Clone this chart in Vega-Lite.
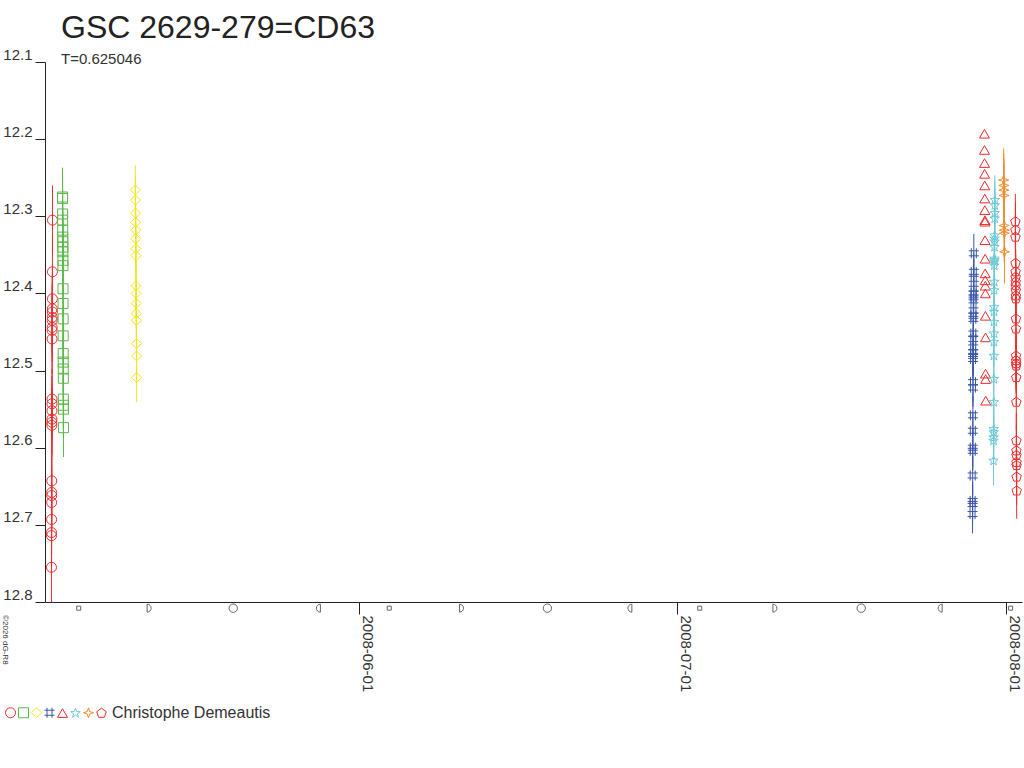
{
  "$schema": "https://vega.github.io/schema/vega-lite/v6.json",
  "width": 977,
  "height": 540,
  "autosize": {"type": "none"},
  "padding": {"left": 45, "top": 62, "right": 2, "bottom": 166},
  "background": "white",
  "config": {
    "view": {"stroke": null},
    "font": "Liberation Sans"
  },
  "title": {
    "text": "GSC 2629-279=CD63",
    "subtitle": "T=0.625046",
    "anchor": "start",
    "frame": "group",
    "dx": 16,
    "offset": -21,
    "font": "Liberation Sans",
    "fontSize": 32,
    "fontWeight": "normal",
    "color": "#222",
    "subtitleFont": "Liberation Sans",
    "subtitleFontSize": 15,
    "subtitleColor": "#333",
    "subtitlePadding": 7
  },
  "datasets": {
    "obs": [
      {"s": "A", "t": "2008-05-02T22:40", "m": 12.755, "e": 0.045},
      {"s": "A", "t": "2008-05-02T22:46", "m": 12.714, "e": 0.045},
      {"s": "A", "t": "2008-05-02T22:52", "m": 12.710, "e": 0.045},
      {"s": "A", "t": "2008-05-02T22:58", "m": 12.693, "e": 0.045},
      {"s": "A", "t": "2008-05-02T23:04", "m": 12.671, "e": 0.045},
      {"s": "A", "t": "2008-05-02T23:10", "m": 12.662, "e": 0.045},
      {"s": "A", "t": "2008-05-02T23:16", "m": 12.658, "e": 0.045},
      {"s": "A", "t": "2008-05-02T23:22", "m": 12.643, "e": 0.045},
      {"s": "A", "t": "2008-05-02T23:28", "m": 12.571, "e": 0.045},
      {"s": "A", "t": "2008-05-02T23:34", "m": 12.567, "e": 0.045},
      {"s": "A", "t": "2008-05-02T23:40", "m": 12.563, "e": 0.045},
      {"s": "A", "t": "2008-05-02T23:46", "m": 12.552, "e": 0.045},
      {"s": "A", "t": "2008-05-02T23:52", "m": 12.543, "e": 0.045},
      {"s": "A", "t": "2008-05-02T23:58", "m": 12.537, "e": 0.045},
      {"s": "A", "t": "2008-05-03T00:04", "m": 12.459, "e": 0.045},
      {"s": "A", "t": "2008-05-03T00:10", "m": 12.448, "e": 0.045},
      {"s": "A", "t": "2008-05-03T00:16", "m": 12.444, "e": 0.045},
      {"s": "A", "t": "2008-05-03T00:22", "m": 12.435, "e": 0.045},
      {"s": "A", "t": "2008-05-03T00:28", "m": 12.431, "e": 0.045},
      {"s": "A", "t": "2008-05-03T00:34", "m": 12.424, "e": 0.045},
      {"s": "A", "t": "2008-05-03T00:40", "m": 12.420, "e": 0.045},
      {"s": "A", "t": "2008-05-03T00:46", "m": 12.407, "e": 0.045},
      {"s": "A", "t": "2008-05-03T00:52", "m": 12.372, "e": 0.045},
      {"s": "A", "t": "2008-05-03T00:58", "m": 12.305, "e": 0.045},
      {"s": "B", "t": "2008-05-03T23:40", "m": 12.275, "e": 0.038},
      {"s": "B", "t": "2008-05-03T23:46", "m": 12.277, "e": 0.038},
      {"s": "B", "t": "2008-05-03T23:52", "m": 12.297, "e": 0.038},
      {"s": "B", "t": "2008-05-03T23:58", "m": 12.305, "e": 0.038},
      {"s": "B", "t": "2008-05-04T00:04", "m": 12.318, "e": 0.038},
      {"s": "B", "t": "2008-05-04T00:10", "m": 12.327, "e": 0.038},
      {"s": "B", "t": "2008-05-04T00:16", "m": 12.333, "e": 0.038},
      {"s": "B", "t": "2008-05-04T00:22", "m": 12.340, "e": 0.038},
      {"s": "B", "t": "2008-05-04T00:28", "m": 12.346, "e": 0.038},
      {"s": "B", "t": "2008-05-04T00:34", "m": 12.357, "e": 0.038},
      {"s": "B", "t": "2008-05-04T00:40", "m": 12.364, "e": 0.038},
      {"s": "B", "t": "2008-05-04T00:46", "m": 12.394, "e": 0.038},
      {"s": "B", "t": "2008-05-04T00:52", "m": 12.413, "e": 0.038},
      {"s": "B", "t": "2008-05-04T00:58", "m": 12.433, "e": 0.038},
      {"s": "B", "t": "2008-05-04T01:04", "m": 12.455, "e": 0.038},
      {"s": "B", "t": "2008-05-04T01:10", "m": 12.478, "e": 0.038},
      {"s": "B", "t": "2008-05-04T01:16", "m": 12.489, "e": 0.038},
      {"s": "B", "t": "2008-05-04T01:22", "m": 12.498, "e": 0.038},
      {"s": "B", "t": "2008-05-04T01:28", "m": 12.510, "e": 0.038},
      {"s": "B", "t": "2008-05-04T01:34", "m": 12.537, "e": 0.038},
      {"s": "B", "t": "2008-05-04T01:40", "m": 12.545, "e": 0.038},
      {"s": "B", "t": "2008-05-04T01:46", "m": 12.550, "e": 0.038},
      {"s": "B", "t": "2008-05-04T01:52", "m": 12.574, "e": 0.038},
      {"s": "C", "t": "2008-05-10T20:30", "m": 12.266, "e": 0.032},
      {"s": "C", "t": "2008-05-10T20:42", "m": 12.279, "e": 0.032},
      {"s": "C", "t": "2008-05-10T20:54", "m": 12.296, "e": 0.032},
      {"s": "C", "t": "2008-05-10T21:06", "m": 12.308, "e": 0.032},
      {"s": "C", "t": "2008-05-10T21:18", "m": 12.318, "e": 0.032},
      {"s": "C", "t": "2008-05-10T21:30", "m": 12.329, "e": 0.032},
      {"s": "C", "t": "2008-05-10T21:42", "m": 12.342, "e": 0.032},
      {"s": "C", "t": "2008-05-10T21:54", "m": 12.351, "e": 0.032},
      {"s": "C", "t": "2008-05-10T22:06", "m": 12.390, "e": 0.032},
      {"s": "C", "t": "2008-05-10T22:18", "m": 12.400, "e": 0.032},
      {"s": "C", "t": "2008-05-10T22:30", "m": 12.413, "e": 0.032},
      {"s": "C", "t": "2008-05-10T22:42", "m": 12.426, "e": 0.032},
      {"s": "C", "t": "2008-05-10T22:54", "m": 12.435, "e": 0.032},
      {"s": "C", "t": "2008-05-10T23:06", "m": 12.465, "e": 0.032},
      {"s": "C", "t": "2008-05-10T23:18", "m": 12.481, "e": 0.032},
      {"s": "C", "t": "2008-05-10T23:30", "m": 12.509, "e": 0.032},
      {"s": "D", "t": "2008-07-28T20:00", "m": 12.686, "e": 0.025},
      {"s": "D", "t": "2008-07-28T20:07", "m": 12.673, "e": 0.025},
      {"s": "D", "t": "2008-07-28T20:14", "m": 12.669, "e": 0.025},
      {"s": "D", "t": "2008-07-28T20:21", "m": 12.636, "e": 0.025},
      {"s": "D", "t": "2008-07-28T20:28", "m": 12.604, "e": 0.025},
      {"s": "D", "t": "2008-07-28T20:35", "m": 12.600, "e": 0.025},
      {"s": "D", "t": "2008-07-28T20:42", "m": 12.578, "e": 0.025},
      {"s": "D", "t": "2008-07-28T20:49", "m": 12.558, "e": 0.025},
      {"s": "D", "t": "2008-07-28T20:56", "m": 12.522, "e": 0.025},
      {"s": "D", "t": "2008-07-28T21:03", "m": 12.515, "e": 0.025},
      {"s": "D", "t": "2008-07-28T21:10", "m": 12.485, "e": 0.025},
      {"s": "D", "t": "2008-07-28T21:17", "m": 12.481, "e": 0.025},
      {"s": "D", "t": "2008-07-28T21:24", "m": 12.476, "e": 0.025},
      {"s": "D", "t": "2008-07-28T21:31", "m": 12.470, "e": 0.025},
      {"s": "D", "t": "2008-07-28T21:38", "m": 12.459, "e": 0.025},
      {"s": "D", "t": "2008-07-28T21:45", "m": 12.452, "e": 0.025},
      {"s": "D", "t": "2008-07-28T21:52", "m": 12.433, "e": 0.025},
      {"s": "D", "t": "2008-07-28T21:59", "m": 12.429, "e": 0.025},
      {"s": "D", "t": "2008-07-28T22:06", "m": 12.422, "e": 0.025},
      {"s": "D", "t": "2008-07-28T22:13", "m": 12.409, "e": 0.025},
      {"s": "D", "t": "2008-07-28T22:20", "m": 12.405, "e": 0.025},
      {"s": "D", "t": "2008-07-28T22:27", "m": 12.400, "e": 0.025},
      {"s": "D", "t": "2008-07-28T22:34", "m": 12.394, "e": 0.025},
      {"s": "D", "t": "2008-07-28T22:41", "m": 12.381, "e": 0.025},
      {"s": "D", "t": "2008-07-28T22:48", "m": 12.372, "e": 0.025},
      {"s": "D", "t": "2008-07-28T22:55", "m": 12.348, "e": 0.025},
      {"s": "E", "t": "2008-07-29T23:00", "m": 12.193},
      {"s": "E", "t": "2008-07-29T23:09", "m": 12.214},
      {"s": "E", "t": "2008-07-29T23:18", "m": 12.231},
      {"s": "E", "t": "2008-07-29T23:27", "m": 12.245},
      {"s": "E", "t": "2008-07-29T23:36", "m": 12.260},
      {"s": "E", "t": "2008-07-29T23:45", "m": 12.277},
      {"s": "E", "t": "2008-07-29T23:54", "m": 12.292},
      {"s": "E", "t": "2008-07-30T00:03", "m": 12.305},
      {"s": "E", "t": "2008-07-30T00:12", "m": 12.307},
      {"s": "E", "t": "2008-07-30T00:21", "m": 12.331},
      {"s": "E", "t": "2008-07-30T00:30", "m": 12.355},
      {"s": "E", "t": "2008-07-30T00:39", "m": 12.374},
      {"s": "E", "t": "2008-07-30T00:48", "m": 12.383},
      {"s": "E", "t": "2008-07-30T00:57", "m": 12.390},
      {"s": "E", "t": "2008-07-30T01:06", "m": 12.400},
      {"s": "E", "t": "2008-07-30T01:15", "m": 12.429},
      {"s": "E", "t": "2008-07-30T01:24", "m": 12.457},
      {"s": "E", "t": "2008-07-30T01:33", "m": 12.504},
      {"s": "E", "t": "2008-07-30T01:42", "m": 12.511},
      {"s": "E", "t": "2008-07-30T01:51", "m": 12.539},
      {"s": "F", "t": "2008-07-30T19:30", "m": 12.617, "e": 0.032},
      {"s": "F", "t": "2008-07-30T19:37", "m": 12.591, "e": 0.032},
      {"s": "F", "t": "2008-07-30T19:44", "m": 12.587, "e": 0.032},
      {"s": "F", "t": "2008-07-30T19:51", "m": 12.580, "e": 0.032},
      {"s": "F", "t": "2008-07-30T19:58", "m": 12.576, "e": 0.032},
      {"s": "F", "t": "2008-07-30T20:05", "m": 12.541, "e": 0.032},
      {"s": "F", "t": "2008-07-30T20:12", "m": 12.511, "e": 0.032},
      {"s": "F", "t": "2008-07-30T20:19", "m": 12.481, "e": 0.032},
      {"s": "F", "t": "2008-07-30T20:26", "m": 12.463, "e": 0.032},
      {"s": "F", "t": "2008-07-30T20:33", "m": 12.452, "e": 0.032},
      {"s": "F", "t": "2008-07-30T20:40", "m": 12.437, "e": 0.032},
      {"s": "F", "t": "2008-07-30T20:47", "m": 12.424, "e": 0.032},
      {"s": "F", "t": "2008-07-30T20:54", "m": 12.418, "e": 0.032},
      {"s": "F", "t": "2008-07-30T21:01", "m": 12.396, "e": 0.032},
      {"s": "F", "t": "2008-07-30T21:08", "m": 12.385, "e": 0.032},
      {"s": "F", "t": "2008-07-30T21:15", "m": 12.364, "e": 0.032},
      {"s": "F", "t": "2008-07-30T21:22", "m": 12.359, "e": 0.032},
      {"s": "F", "t": "2008-07-30T21:29", "m": 12.357, "e": 0.032},
      {"s": "F", "t": "2008-07-30T21:36", "m": 12.355, "e": 0.032},
      {"s": "F", "t": "2008-07-30T21:43", "m": 12.340, "e": 0.032},
      {"s": "F", "t": "2008-07-30T21:50", "m": 12.333, "e": 0.032},
      {"s": "F", "t": "2008-07-30T21:57", "m": 12.329, "e": 0.032},
      {"s": "F", "t": "2008-07-30T22:04", "m": 12.325, "e": 0.032},
      {"s": "F", "t": "2008-07-30T22:11", "m": 12.303, "e": 0.032},
      {"s": "F", "t": "2008-07-30T22:18", "m": 12.296, "e": 0.032},
      {"s": "F", "t": "2008-07-30T22:25", "m": 12.286, "e": 0.032},
      {"s": "F", "t": "2008-07-30T22:32", "m": 12.279, "e": 0.032},
      {"s": "G", "t": "2008-07-31T18:30", "m": 12.253, "e": 0.041},
      {"s": "G", "t": "2008-07-31T18:47", "m": 12.260, "e": 0.041},
      {"s": "G", "t": "2008-07-31T19:04", "m": 12.266, "e": 0.041},
      {"s": "G", "t": "2008-07-31T19:21", "m": 12.273, "e": 0.041},
      {"s": "G", "t": "2008-07-31T19:38", "m": 12.312, "e": 0.041},
      {"s": "G", "t": "2008-07-31T19:55", "m": 12.318, "e": 0.041},
      {"s": "G", "t": "2008-07-31T20:12", "m": 12.322, "e": 0.041},
      {"s": "G", "t": "2008-07-31T20:29", "m": 12.346, "e": 0.041},
      {"s": "H", "t": "2008-08-01T21:00", "m": 12.307, "e": 0.036},
      {"s": "H", "t": "2008-08-01T21:07", "m": 12.318, "e": 0.036},
      {"s": "H", "t": "2008-08-01T21:14", "m": 12.327, "e": 0.036},
      {"s": "H", "t": "2008-08-01T21:21", "m": 12.361, "e": 0.036},
      {"s": "H", "t": "2008-08-01T21:28", "m": 12.372, "e": 0.036},
      {"s": "H", "t": "2008-08-01T21:35", "m": 12.379, "e": 0.036},
      {"s": "H", "t": "2008-08-01T21:42", "m": 12.385, "e": 0.036},
      {"s": "H", "t": "2008-08-01T21:49", "m": 12.390, "e": 0.036},
      {"s": "H", "t": "2008-08-01T21:56", "m": 12.396, "e": 0.036},
      {"s": "H", "t": "2008-08-01T22:03", "m": 12.403, "e": 0.036},
      {"s": "H", "t": "2008-08-01T22:10", "m": 12.407, "e": 0.036},
      {"s": "H", "t": "2008-08-01T22:17", "m": 12.433, "e": 0.036},
      {"s": "H", "t": "2008-08-01T22:24", "m": 12.446, "e": 0.036},
      {"s": "H", "t": "2008-08-01T22:31", "m": 12.481, "e": 0.036},
      {"s": "H", "t": "2008-08-01T22:38", "m": 12.487, "e": 0.036},
      {"s": "H", "t": "2008-08-01T22:45", "m": 12.491, "e": 0.036},
      {"s": "H", "t": "2008-08-01T22:52", "m": 12.494, "e": 0.036},
      {"s": "H", "t": "2008-08-01T22:59", "m": 12.509, "e": 0.036},
      {"s": "H", "t": "2008-08-01T23:06", "m": 12.541, "e": 0.036},
      {"s": "H", "t": "2008-08-01T23:13", "m": 12.591, "e": 0.036},
      {"s": "H", "t": "2008-08-01T23:20", "m": 12.604, "e": 0.036},
      {"s": "H", "t": "2008-08-01T23:27", "m": 12.610, "e": 0.036},
      {"s": "H", "t": "2008-08-01T23:34", "m": 12.619, "e": 0.036},
      {"s": "H", "t": "2008-08-01T23:41", "m": 12.623, "e": 0.036},
      {"s": "H", "t": "2008-08-01T23:48", "m": 12.638, "e": 0.036},
      {"s": "H", "t": "2008-08-01T23:55", "m": 12.656, "e": 0.036}
    ],
    "moon": [
      {"p": "new", "t": "2008-05-05T12:18"},
      {"p": "first", "t": "2008-05-12T03:47"},
      {"p": "full", "t": "2008-05-20T02:11"},
      {"p": "last", "t": "2008-05-28T02:57"},
      {"p": "new", "t": "2008-06-03T19:23"},
      {"p": "first", "t": "2008-06-10T15:04"},
      {"p": "full", "t": "2008-06-18T17:30"},
      {"p": "last", "t": "2008-06-26T12:10"},
      {"p": "new", "t": "2008-07-03T02:19"},
      {"p": "first", "t": "2008-07-10T04:35"},
      {"p": "full", "t": "2008-07-18T07:59"},
      {"p": "last", "t": "2008-07-25T18:42"},
      {"p": "new", "t": "2008-08-01T10:13"}
    ],
    "note": [
      {"t": "2008-04-28T13:30", "txt": "©2026 dG-R8"}
    ]
  },
  "encoding": {
    "x": {
      "field": "t",
      "type": "temporal",
      "scale": {
        "domain": [
          {"year": 2008, "month": 5, "date": 2, "hours": 8},
          {"year": 2008, "month": 8, "date": 2, "hours": 12}
        ]
      },
      "axis": {
        "title": null,
        "grid": false,
        "tickCount": {"interval": "month", "step": 1},
        "format": "%Y-%m-%d",
        "labelAngle": 90,
        "labelAlign": "left",
        "labelBaseline": "bottom",
        "labelFontSize": 15,
        "labelFont": "Liberation Sans",
        "labelColor": "#333",
        "labelPadding": 1,
        "tickSize": 12,
        "tickColor": "#222",
        "domainColor": "#222",
        "labelFlush": false,
        "labelOverlap": false
      }
    }
  },
  "layer": [
    {
      "data": {"name": "obs"},
      "transform": [{"filter": "isValid(datum.e)"}],
      "mark": {"type": "errorbar", "clip": true, "thickness": 1},
      "encoding": {
        "y": {
          "field": "m",
          "type": "quantitative",
          "scale": {"domain": [12.1, 12.8], "reverse": true, "nice": false, "zero": false},
          "axis": {
            "title": null,
            "grid": false,
            "values": [12.1, 12.2, 12.3, 12.4, 12.5, 12.6, 12.7, 12.8],
            "format": ".1f",
            "tickSize": 10,
            "labelPadding": 3,
            "labelBaseline": "bottom",
            "labelFontSize": 15,
            "labelFont": "Liberation Sans",
            "labelColor": "#333",
            "tickColor": "#222",
            "domainColor": "#222"
          }
        },
        "yError": {"field": "e"},
        "color": {
          "field": "s",
          "type": "nominal",
          "scale": {
            "domain": ["A", "B", "C", "D", "E", "F", "G", "H"],
            "range": ["#ee2c2c", "#5cb848", "#f2e51c", "#3a56a8", "#ee2c2c", "#6ccad6", "#f08c2c", "#ee2c2c"]
          }
        }
      }
    },
    {
      "data": {"name": "obs"},
      "mark": {"type": "point", "filled": false, "size": 100, "strokeWidth": 1, "opacity": 1},
      "encoding": {
        "y": {"field": "m", "type": "quantitative"},
        "color": {
          "field": "s",
          "type": "nominal",
          "legend": {
            "title": "Christophe Demeautis",
            "labelExpr": "''",
            "orient": "none",
            "legendX": -40,
            "legendY": 645,
            "direction": "horizontal",
            "titleOrient": "right",
            "titleFontSize": 16,
            "titleFontWeight": "normal",
            "titleColor": "#333",
            "titlePadding": 4,
            "titleFont": "Liberation Sans",
            "labelOffset": -5,
            "columnPadding": -7.2,
            "symbolSize": 100,
            "symbolStrokeWidth": 1,
            "symbolOpacity": 1,
            "padding": 0
          }
        },
        "shape": {
          "field": "s",
          "type": "nominal",
          "scale": {
            "domain": ["A", "B", "C", "D", "E", "F", "G", "H"],
            "range": [
              "circle",
              "square",
              "diamond",
              "M-0.5,-1L-0.5,1M0.5,-1L0.5,1M-1,-0.5L1,-0.5M-1,0.5L1,0.5",
              "triangle-up",
              "M0,-1L0.24,-0.33L0.95,-0.31L0.39,0.13L0.59,0.81L0,0.4L-0.59,0.81L-0.39,0.13L-0.95,-0.31L-0.24,-0.33Z",
              "M0,-1L0.25,-0.25L1,0L0.25,0.25L0,1L-0.25,0.25L-1,0L-0.25,-0.25Z",
              "M0,-1L0.95,-0.31L0.59,0.81L-0.59,0.81L-0.95,-0.31Z"
            ]
          },
          "legend": {
            "title": "Christophe Demeautis",
            "labelExpr": "''",
            "orient": "none",
            "legendX": -40,
            "legendY": 645,
            "direction": "horizontal",
            "titleOrient": "right",
            "titleFontSize": 16,
            "titleFontWeight": "normal",
            "titleColor": "#333",
            "titlePadding": 4,
            "titleFont": "Liberation Sans",
            "labelOffset": -5,
            "columnPadding": -7.2,
            "symbolSize": 100,
            "symbolStrokeWidth": 1,
            "symbolOpacity": 1,
            "padding": 0
          }
        }
      }
    },
    {
      "data": {"name": "moon"},
      "transform": [{"filter": "datum.p == 'new'"}],
      "mark": {"type": "point", "shape": "square", "size": 16, "filled": false, "color": "#222", "strokeWidth": 1},
      "encoding": {"y": {"datum": 12.808, "type": "quantitative"}}
    },
    {
      "data": {"name": "moon"},
      "transform": [{"filter": "datum.p == 'first'"}],
      "mark": {"type": "point", "shape": "M-0.5,-1L-0.5,1A1,1 0 0 0 -0.5,-1Z", "size": 64, "filled": false, "color": "#222", "strokeWidth": 1},
      "encoding": {"y": {"datum": 12.808, "type": "quantitative"}}
    },
    {
      "data": {"name": "moon"},
      "transform": [{"filter": "datum.p == 'full'"}],
      "mark": {"type": "point", "shape": "circle", "size": 70, "filled": false, "color": "#222", "strokeWidth": 1},
      "encoding": {"y": {"datum": 12.808, "type": "quantitative"}}
    },
    {
      "data": {"name": "moon"},
      "transform": [{"filter": "datum.p == 'last'"}],
      "mark": {"type": "point", "shape": "M0.5,-1L0.5,1A1,1 0 0 1 0.5,-1Z", "size": 64, "filled": false, "color": "#222", "strokeWidth": 1},
      "encoding": {"y": {"datum": 12.808, "type": "quantitative"}}
    },
    {
      "data": {"name": "note"},
      "mark": {"type": "text", "angle": 90, "align": "left", "baseline": "middle", "fontSize": 8, "color": "#333", "font": "Liberation Sans"},
      "encoding": {
        "text": {"field": "txt"},
        "y": {"datum": 12.817, "type": "quantitative"}
      }
    }
  ]
}
